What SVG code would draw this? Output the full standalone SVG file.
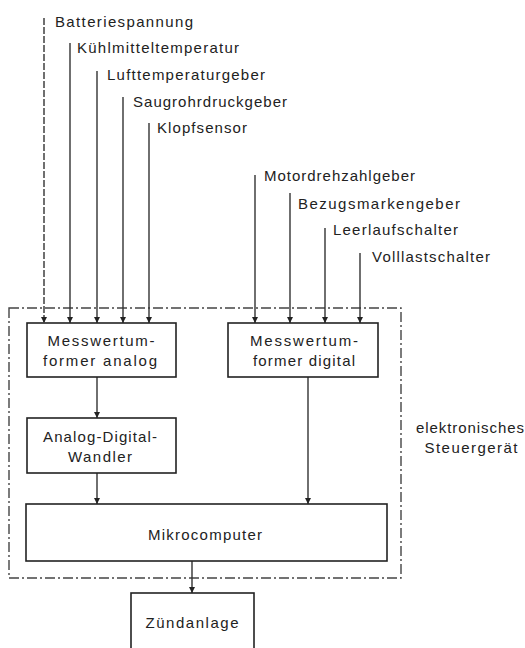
<svg xmlns="http://www.w3.org/2000/svg" width="525" height="648" viewBox="0 0 525 648">
<style>
text{font-family:"Liberation Sans",Arial,sans-serif;font-size:15px;fill:#222;}
.c{text-anchor:middle;}
.box{fill:#fff;stroke:#222;stroke-width:1.6;}
.ln{stroke:#333;stroke-width:1.4;fill:none;}
.frame{fill:none;stroke:#444;stroke-width:1.4;stroke-dasharray:10 3 2 3;}
</style>
<defs>
<marker id="ah" viewBox="0 0 8 8" refX="8" refY="4" markerWidth="6" markerHeight="6" markerUnits="userSpaceOnUse" orient="auto">
<path d="M0,0 L8,4 L0,8 z" fill="#222"/>
</marker>
</defs>
<rect id="frame" class="frame" x="9" y="308" width="392" height="270"/>
<g id="connectors">
<line class="ln" x1="44" y1="18" x2="44" y2="323" stroke-dasharray="7 2" stroke="#666" marker-end="url(#ah)"/>
<line class="ln" x1="70" y1="43" x2="70" y2="323" marker-end="url(#ah)"/>
<line class="ln" x1="97" y1="71" x2="97" y2="323" marker-end="url(#ah)"/>
<line class="ln" x1="123" y1="97" x2="123" y2="323" marker-end="url(#ah)"/>
<line class="ln" x1="149" y1="123" x2="149" y2="323" marker-end="url(#ah)"/>
<line class="ln" x1="255" y1="175" x2="255" y2="323" marker-end="url(#ah)"/>
<line class="ln" x1="290" y1="193" x2="290" y2="323" marker-end="url(#ah)"/>
<line class="ln" x1="325" y1="228" x2="325" y2="323" marker-end="url(#ah)"/>
<line class="ln" x1="360" y1="253" x2="360" y2="323" marker-end="url(#ah)"/>
<line class="ln" x1="97" y1="377" x2="97" y2="418" marker-end="url(#ah)"/>
<line class="ln" x1="97" y1="473" x2="97" y2="504" marker-end="url(#ah)"/>
<line class="ln" x1="308" y1="377" x2="308" y2="504" marker-end="url(#ah)"/>
<line class="ln" x1="192" y1="561" x2="192" y2="593" marker-end="url(#ah)"/>
</g>
<g id="inputs">
<text x="55" y="27" textLength="138" lengthAdjust="spacing">Batteriespannung</text>
<text x="77" y="53" textLength="162" lengthAdjust="spacing">Kühlmitteltemperatur</text>
<text x="107" y="80" textLength="158" lengthAdjust="spacing">Lufttemperaturgeber</text>
<text x="133" y="107" textLength="154" lengthAdjust="spacing">Saugrohrdruckgeber</text>
<text x="157" y="133" textLength="90" lengthAdjust="spacing">Klopfsensor</text>
<text x="264" y="181" textLength="151" lengthAdjust="spacing">Motordrehzahlgeber</text>
<text x="298" y="209" textLength="162" lengthAdjust="spacing">Bezugsmarkengeber</text>
<text x="333" y="235" textLength="125" lengthAdjust="spacing">Leerlaufschalter</text>
<text x="372" y="262" textLength="118" lengthAdjust="spacing">Volllastschalter</text>
</g>
<g id="mw-analog">
<rect class="box" x="27" y="323" width="149" height="54"/>
<text class="c" x="101" y="346" textLength="107" lengthAdjust="spacing">Messwertum-</text>
<text class="c" x="100" y="366" textLength="114" lengthAdjust="spacing">former analog</text>
</g>
<g id="mw-digital">
<rect class="box" x="228" y="323" width="150" height="54"/>
<text class="c" x="304" y="346" textLength="108" lengthAdjust="spacing">Messwertum-</text>
<text class="c" x="304" y="366" textLength="102" lengthAdjust="spacing">former digital</text>
</g>
<g id="adc">
<rect class="box" x="27" y="418" width="149" height="55"/>
<text class="c" x="100" y="442" textLength="114" lengthAdjust="spacing">Analog-Digital-</text>
<text class="c" x="100" y="462" textLength="64" lengthAdjust="spacing">Wandler</text>
</g>
<g id="mikro">
<rect class="box" x="26" y="504" width="361" height="57"/>
<text class="c" x="205" y="540" textLength="114" lengthAdjust="spacing">Mikrocomputer</text>
</g>
<g id="zuend">
<rect class="box" x="131" y="593" width="123" height="60"/>
<text class="c" x="192" y="628" textLength="93" lengthAdjust="spacing">Zündanlage</text>
</g>
<g id="label">
<text class="c" x="470" y="433" textLength="108" lengthAdjust="spacing">elektronisches</text>
<text class="c" x="471" y="453" textLength="93" lengthAdjust="spacing">Steuergerät</text>
</g>
</svg>
